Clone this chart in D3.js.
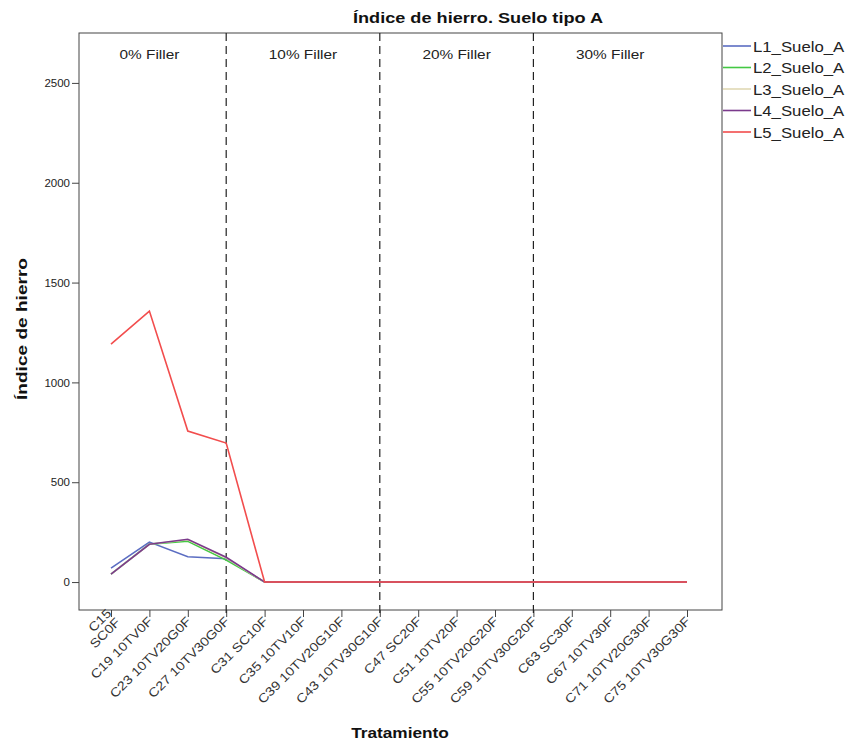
<!DOCTYPE html>
<html><head><meta charset="utf-8">
<script src="https://cdn.jsdelivr.net/npm/d3@7"></script>
<style>body{margin:0;background:#fff;} text{font-family:"Liberation Sans",Arial,sans-serif;}</style>
</head><body><svg id="c" width="849" height="745"></svg>
<script>
const categories = ["C15 SC0F","C19 10TV0F","C23 10TV20G0F","C27 10TV30G0F","C31 SC10F","C35 10TV10F","C39 10TV20G10F","C43 10TV30G10F","C47 SC20F","C51 10TV20F","C55 10TV20G20F","C59 10TV30G20F","C63 SC30F","C67 10TV30F","C71 10TV20G30F","C75 10TV30G30F"];
const seriesNames = ["L1_Suelo_A","L2_Suelo_A","L3_Suelo_A","L4_Suelo_A","L5_Suelo_A"];
const L1 = [70,200,127,117,0,0,0,0,0,0,0,0,0,0,0,0];
const L2 = [40,190,204,110,0,0,0,0,0,0,0,0,0,0,0,0];
const L3 = [40,189,212,120,0,0,0,0,0,0,0,0,0,0,0,0];
const L4 = [40,189,214,124,0,0,0,0,0,0,0,0,0,0,0,0];
const L5 = [1192,1357,756,696,0,0,0,0,0,0,0,0,0,0,0,0];
const colors = ["#5b6dc2","#44c844","#e0d9b4","#7b3a8c","#f24d4d"];
const yTicks = [0,500,1000,1500,2000,2500];
const dividers = ["C27 10TV30G0F","C43 10TV30G10F","C59 10TV30G20F"];
const panelLabels = ["0% Filler","10% Filler","20% Filler","30% Filler"];
const panelAt = ["C19 10TV0F","C35 10TV10F","C51 10TV20F","C67 10TV30F"];
const seriesData = [L1,L2,L3,L4,L5];

const svg = d3.select("#c");
const L=79,R=722,T=33,B=610;
const x = d3.scalePoint().domain(categories).range([111,687]);
const y = d3.scaleLinear().domain([-140,2750]).range([B,T]);

svg.append("rect").attr("x",L).attr("y",T).attr("width",R-L).attr("height",B-T)
  .attr("fill","none").attr("stroke","#444").attr("stroke-width",1);

const ya = svg.append("g").attr("transform",`translate(${L},0)`)
  .call(d3.axisLeft(y).tickValues(yTicks).tickSize(7).tickPadding(2).tickFormat(d3.format("d")));
ya.select(".domain").remove();
ya.selectAll("line").attr("stroke","#444");
ya.selectAll("text").attr("font-size",11.5).attr("fill","#222").style("font-family","Liberation Sans, Arial, sans-serif");

const xa = svg.append("g").attr("transform",`translate(0,${B})`)
  .call(d3.axisBottom(x).tickSize(7).tickFormat(""));
xa.select(".domain").remove();
xa.selectAll("line").attr("stroke","#444");
const lab = svg.append("g");
categories.forEach((c,i)=>{
  const t = lab.append("text")
    .attr("transform",`translate(${x(c)+4},${B+12}) rotate(-45) scale(1.15,1)`)
    .attr("text-anchor","end").attr("font-size",12.5).attr("fill","#333");
  if(i===0){
    t.append("tspan").attr("x",0).attr("dy","-1.0em").text("C15");
    t.append("tspan").attr("x",0).attr("dy","1.0em").text("SC0F");
    t.attr("transform",`translate(${x(c)+10},${B+13}) rotate(-45) scale(1.15,1)`);
  } else t.text(c);
});

dividers.forEach(d=>{
  svg.append("line").attr("x1",x(d)).attr("x2",x(d)).attr("y1",T).attr("y2",B+7)
    .attr("stroke","#222").attr("stroke-width",1.2).attr("stroke-dasharray","8,5");
});

panelLabels.forEach((p,i)=>{
  svg.append("text").attr("transform",`translate(${x(panelAt[i])},59) scale(1.14,1)`).attr("text-anchor","middle")
    .attr("font-size",13.5).attr("fill","#222").text(p);
});

const line = d3.line().x((d,i)=>x(categories[i])).y(d=>y(d));
seriesData.forEach((s,k)=>{
  svg.append("path").datum(s).attr("d",line).attr("fill","none")
    .attr("stroke",colors[k]).attr("stroke-width",1.6);
});

svg.append("text").attr("transform","translate(478,23) scale(1.17,1)").attr("text-anchor","middle")
  .attr("font-size",15.5).attr("font-weight","bold").attr("fill","#111")
  .text("Índice de hierro. Suelo tipo A");
svg.append("text").attr("transform","translate(27,329) rotate(-90)").attr("text-anchor","middle")
  .attr("font-size",15).attr("font-weight","bold").attr("fill","#111")
  .attr("textLength",142).attr("lengthAdjust","spacingAndGlyphs")
  .text("Índice de hierro");
svg.append("text").attr("transform","translate(400,738) scale(1.15,1)").attr("text-anchor","middle")
  .attr("font-size",15).attr("font-weight","bold").attr("fill","#111")
  .text("Tratamiento");

seriesNames.forEach((n,k)=>{
  const yy = 46 + k*21.5;
  svg.append("line").attr("x1",723).attr("x2",751).attr("y1",yy).attr("y2",yy)
    .attr("stroke",colors[k]).attr("stroke-width",1.6);
  svg.append("text").attr("transform",`translate(753,${yy+5.5}) scale(1.08,1)`).attr("font-size",15.5).attr("fill","#222")
    .text(n);
});
</script></body></html>
